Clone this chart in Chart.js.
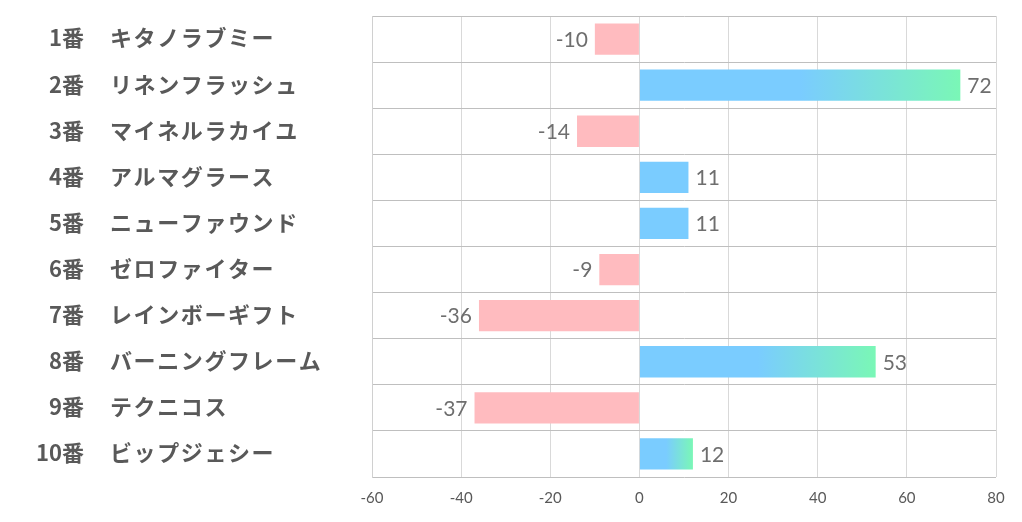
<!DOCTYPE html>
<html>
<head>
<meta charset="utf-8">
<script src="https://cdn.jsdelivr.net/npm/chart.js@4/dist/chart.umd.min.js"></script>
<style>
  body { margin: 0; background: #fff; }
</style>
</head>
<body>
<canvas id="chart" width="1022" height="522"></canvas>
<script>
var numbers = ["1番", "2番", "3番", "4番", "5番", "6番", "7番", "8番", "9番", "10番"];
var names = ["キタノラブミー", "リネンフラッシュ", "マイネルラカイユ", "アルマグラース", "ニューファウンド",
  "ゼロファイター", "レインボーギフト", "バーニングフレーム", "テクニコス", "ビップジェシー"];
var values = [-10, 72, -14, 11, 11, -9, -36, 53, -37, 12];
var xTicks = [-60, -40, -20, 0, 20, 40, 60, 80];

var pink = "#ffbbbf";
var blue = "#7accff";
var green = "#7af7b6";
var textColor = "#595959";

function barColor(context) {
  var v = values[context.dataIndex];
  if (v < 0) return pink;
  if (v < 12) return blue;
  var chart = context.chart;
  if (!chart.chartArea) return blue;
  var x0 = chart.scales.x.getPixelForValue(0);
  var x1 = chart.scales.x.getPixelForValue(v);
  var g = chart.ctx.createLinearGradient(x0, 0, x1, 0);
  g.addColorStop(0, blue);
  g.addColorStop(0.5, blue);
  g.addColorStop(1, green);
  return g;
}

// horse number + name columns on the left
var namePlugin = {
  id: "names",
  afterDraw: function (chart) {
    var ctx = chart.ctx;
    var yScale = chart.scales.y;
    ctx.save();
    ctx.fillStyle = textColor;
    ctx.font = "bold 22px 'Noto Sans CJK JP'";
    ctx.textBaseline = "middle";
    for (let i = 0; i < names.length; i++) {
      let y = yScale.getPixelForValue(i) - 1;
      ctx.letterSpacing = "0px";
      ctx.textAlign = "right";
      ctx.fillText(numbers[i], 84, y);
      ctx.letterSpacing = "1.6px";
      ctx.textAlign = "left";
      ctx.fillText(names[i], 110, y);
    }
    ctx.restore();
  },
};

// value labels next to each bar
var valuePlugin = {
  id: "values",
  afterDatasetsDraw: function (chart) {
    var ctx = chart.ctx;
    var meta = chart.getDatasetMeta(0);
    ctx.save();
    ctx.fillStyle = "#6e6e6e";
    ctx.font = "21px Lato";
    ctx.textBaseline = "middle";
    meta.data.forEach((bar, i) => {
      let v = values[i];
      if (v < 0) {
        ctx.textAlign = "right";
        ctx.fillText(String(v), bar.x - 7, bar.y + 1);
      } else {
        ctx.textAlign = "left";
        ctx.fillText(String(v), bar.x + 7, bar.y + 1);
      }
    });
    ctx.restore();
  },
};

new Chart(document.getElementById("chart").getContext("2d"), {
  type: "bar",
  data: {
    labels: numbers.map((n, i) => n + " " + names[i]),
    datasets: [{
      data: values,
      backgroundColor: barColor,
      borderWidth: 0,
      barPercentage: 0.68,
      categoryPercentage: 1,
    }],
  },
  options: {
    indexAxis: "y",
    responsive: false,
    animation: false,
    devicePixelRatio: 1,
    layout: { padding: { left: 372, right: 26, top: 16, bottom: 3 } },
    plugins: {
      legend: { display: false },
      tooltip: { enabled: false },
    },
    scales: {
      x: {
        min: -60,
        max: 80,
        afterBuildTicks: (axis) => { axis.ticks = xTicks.map((v) => ({ value: v })); },
        grid: { color: "#d9d9d9", drawTicks: false },
        border: { display: false },
        ticks: { color: textColor, font: { size: 15, family: "Lato" }, padding: 12 },
      },
      y: {
        offset: true,
        grid: { offset: true, color: "#bfbfbf", drawTicks: false },
        border: { color: "#d0d0d0" },
        ticks: { display: false },
      },
    },
  },
  plugins: [namePlugin, valuePlugin],
});
</script>
</body>
</html>
